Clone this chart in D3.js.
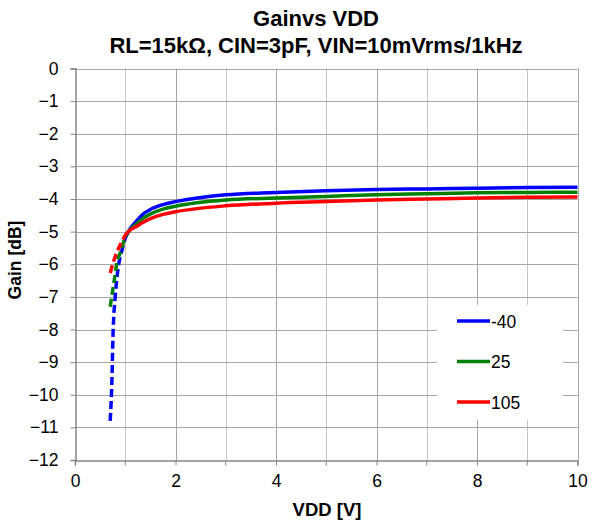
<!DOCTYPE html>
<html>
<head>
<meta charset="utf-8">
<script src="https://cdn.jsdelivr.net/npm/d3@7"></script>
<style>
  body { margin: 0; background: #fff; }
  svg text { font-family: "Liberation Sans", Arial, sans-serif; fill: #000; }
</style>
</head>
<body>
<svg id="chart" width="589" height="524"></svg>
<script>
// temperatures in legend
var temps = ["-40", "25", "105"];
var colors = ["#0000ff", "#008000", "#ff0000"];

// low-VDD region (dashed)
var vddLow = {
    "-40": [0.70, 0.73, 0.76, 0.80, 0.87, 0.93, 1.00],
    "25": [0.70, 0.77, 0.83, 0.91, 1.00],
    "105": [0.70, 0.77, 0.87, 0.97, 1.00]
};
var gainLow = {
    "-40": [-10.8, -9.8, -8.0, -7.0, -6.0, -5.6, -5.2],
    "25": [-7.3, -6.6, -6.0, -5.6, -5.15],
    "105": [-6.27, -5.9, -5.5, -5.2, -5.1]
};

// normal region (solid)
var vdd = [1.0, 1.1, 1.2, 1.35, 1.5, 1.75, 2, 3, 4, 5, 6, 7, 8, 9, 10];
var gain = {
    "-40": [-5.2, -4.9, -4.72, -4.47, -4.32, -4.17, -4.08, -3.87, -3.8, -3.75, -3.71, -3.69, -3.67, -3.65, -3.64],
    "25": [-5.15, -4.93, -4.8, -4.6, -4.46, -4.31, -4.22, -4.03, -3.97, -3.92, -3.87, -3.84, -3.81, -3.8, -3.79],
    "105": [-5.1, -4.95, -4.86, -4.72, -4.6, -4.47, -4.39, -4.21, -4.13, -4.08, -4.03, -4.0, -3.97, -3.95, -3.94]
};

var xTicks = [0, 2, 4, 6, 8, 10];
var yTicks = d3.range(0, -13, -1);

var svg = d3.select("#chart");
var pLeft = 75, pRight = 577.5, pTop = 68.5, pBottom = 460;

var x = d3.scaleLinear().domain([0, 10]).range([pLeft, pRight]);
var y = d3.scaleLinear().domain([-12, 0]).range([pBottom, pTop]);

// grid
svg.append("g").selectAll("line")
    .data(d3.range(1, 11))
    .enter().append("line")
    .attr("x1", d => Math.round(x(d)) + 0.5).attr("x2", d => Math.round(x(d)) + 0.5)
    .attr("y1", pTop).attr("y2", pBottom)
    .attr("stroke", d => d % 2 == 0 ? "#a6a6a6" : "#c4c4c4");

svg.append("g").selectAll("line")
    .data(d3.range(0, -12, -1))
    .enter().append("line")
    .attr("x1", pLeft).attr("x2", pRight)
    .attr("y1", d => Math.round(y(d)) + 0.5).attr("y2", d => Math.round(y(d)) + 0.5)
    .attr("stroke", "#a6a6a6");

// axes
var xAxis = d3.axisBottom(x).tickValues(xTicks).tickSize(5).tickPadding(9);
var gx = svg.append("g")
    .attr("transform", "translate(0," + (pBottom + 0.5) + ")")
    .call(xAxis);
// minor ticks at odd values
gx.selectAll(".minor").data([1, 3, 5, 7, 9]).enter().append("line")
    .attr("class", "minor")
    .attr("x1", d => x(d)).attr("x2", d => x(d)).attr("y1", 0).attr("y2", 5)
    .attr("stroke", "#868686");

var yAxis = d3.axisLeft(y).tickValues(yTicks).tickSize(5).tickPadding(12);
var gy = svg.append("g")
    .attr("transform", "translate(" + (pLeft + 0.5) + ",0)")
    .call(yAxis);

svg.selectAll(".domain").attr("stroke", "#868686").attr("stroke-width", 1.5);
svg.selectAll(".tick line").attr("stroke", "#868686");
svg.selectAll(".tick text").style("font-size", "17.5px").style("fill", "#000");

// curves
var line = d3.line()
    .x(d => x(d[0]))
    .y(d => y(d[1]))
    .curve(d3.curveMonotoneX);

temps.forEach(function(t, i) {
    var low = vddLow[t].map((v, j) => [v, gainLow[t][j]]);
    var hi = vdd.map((v, j) => [v, gain[t][j]]);
    svg.append("path")
        .attr("d", line(low))
        .attr("fill", "none")
        .attr("stroke", colors[i])
        .attr("stroke-width", 3.5)
        .attr("stroke-dasharray", "8,4");
    svg.append("path")
        .attr("d", line(hi))
        .attr("fill", "none")
        .attr("stroke", colors[i])
        .attr("stroke-width", 3.5);
});

// legend
var legend = svg.append("g");
legend.append("rect")
    .attr("x", 437).attr("y", 305).attr("width", 126).attr("height", 115)
    .attr("fill", "#fff");
temps.forEach(function(t, i) {
    var ly = 321 + i * 40.5;
    legend.append("line")
        .attr("x1", 457).attr("x2", 490).attr("y1", ly).attr("y2", ly)
        .attr("stroke", colors[i]).attr("stroke-width", 3.5);
    legend.append("text")
        .attr("x", 491).attr("y", ly + 6.5)
        .style("font-size", "17.5px")
        .text(t);
});

// titles
svg.append("text")
    .attr("x", 316).attr("y", 26)
    .attr("text-anchor", "middle")
    .style("font-size", "22px").style("font-weight", "bold")
    .text("Gainvs VDD");
svg.append("text")
    .attr("x", 316).attr("y", 53)
    .attr("text-anchor", "middle")
    .style("font-size", "22px").style("font-weight", "bold")
    .text("RL=15kΩ, CIN=3pF, VIN=10mVrms/1kHz");

svg.append("text")
    .attr("x", 327).attr("y", 516)
    .attr("text-anchor", "middle")
    .style("font-size", "18.5px").style("font-weight", "bold")
    .text("VDD [V]");

svg.append("text")
    .attr("transform", "translate(21,260) rotate(-90)")
    .attr("text-anchor", "middle")
    .style("font-size", "17.5px").style("font-weight", "bold")
    .text("Gain [dB]");
</script>
</body>
</html>
